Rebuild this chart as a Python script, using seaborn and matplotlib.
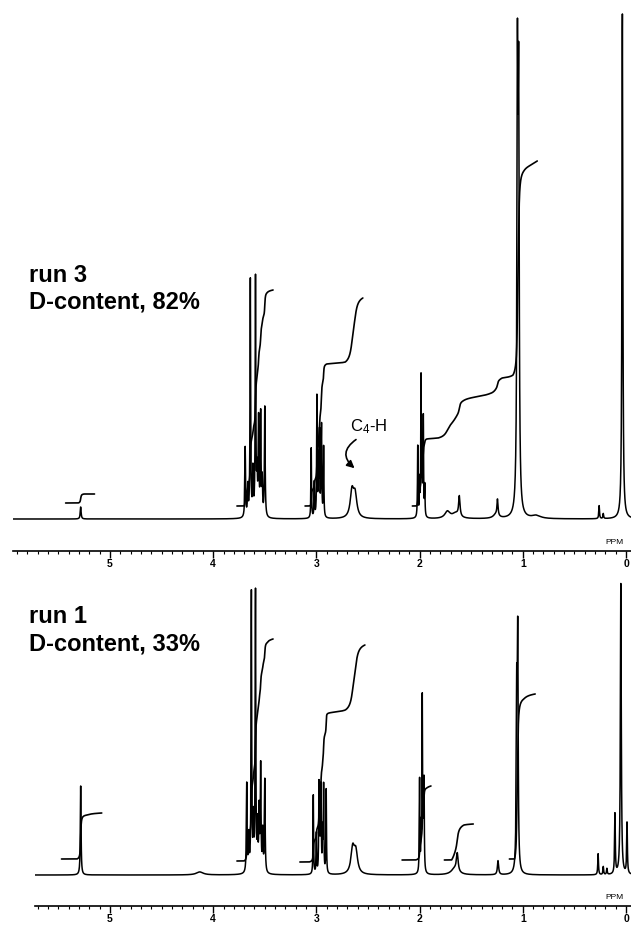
import numpy as np
import pandas as pd
import seaborn as sns
import matplotlib
matplotlib.use("Agg")
import matplotlib.pyplot as plt
from matplotlib.ticker import MultipleLocator

# -------------------------------
# 1. PEAK LISTS (ppm, height, half width)
# -------------------------------
# run 3, D-content 82%
run3_ppm = [5.284, 3.69, 3.665, 3.64, 3.615, 3.59, 3.575, 3.56, 3.54, 3.525, 3.50,
            3.05, 3.02, 2.995, 2.98, 2.97, 2.955, 2.95, 2.93,
            2.655, 2.625,
            2.018, 2.00, 1.986, 1.975, 1.964, 1.95,
            1.73, 1.65, 1.615, 1.26, 1.245, 1.052, 1.040, 0.87, 0.26, 0.22, 0.035]
run3_height = [12, 70, 30, 237, 45, 237, 40, 95, 101, 35, 110,
               70, 35, 120, 55, 81, 50, 78, 70,
               26, 22,
               71, 35, 139, 40, 98, 30,
               7, 5, 20, 4, 16, 420, 390, 3, 13, 5, 505]
run3_width = [0.005, 0.004, 0.004, 0.0035, 0.004, 0.0035, 0.004, 0.004, 0.004, 0.004, 0.004,
              0.003, 0.003, 0.003, 0.003, 0.003, 0.003, 0.003, 0.003,
              0.02, 0.02,
              0.003, 0.003, 0.003, 0.003, 0.003, 0.003,
              0.03, 0.04, 0.008, 0.03, 0.006, 0.006, 0.006, 0.05, 0.004, 0.004, 0.005]

# run 1, D-content 33%
run1_ppm = [5.284, 4.13, 3.675, 3.655, 3.63, 3.61, 3.59, 3.57, 3.555, 3.54, 3.52, 3.50,
            3.03, 3.00, 2.975, 2.965, 2.955, 2.94, 2.93, 2.905,
            2.648, 2.618,
            2.00, 1.985, 1.974, 1.965, 1.957,
            1.66, 1.635, 1.24, 1.059, 1.049, 0.27, 0.22, 0.185, 0.107, 0.05, -0.01]
run1_height = [89, 3, 89, 35, 279, 50, 279, 45, 60, 105, 40, 93,
               79, 40, 88, 45, 84, 40, 86, 84,
               25, 21,
               93, 40, 171, 45, 88,
               6, 18, 14, 165, 225, 21, 8, 6, 60, 291, 51]
run1_width = [0.004, 0.04, 0.004, 0.004, 0.0035, 0.004, 0.0035, 0.004, 0.004, 0.004, 0.004, 0.004,
              0.003, 0.003, 0.003, 0.003, 0.003, 0.003, 0.003, 0.003,
              0.02, 0.02,
              0.003, 0.003, 0.003, 0.003, 0.003,
              0.04, 0.01, 0.007, 0.005, 0.005, 0.004, 0.004, 0.004, 0.004, 0.005, 0.004]

# -------------------------------
# 2. INTEGRAL TRACES (break points in ppm, levels)
# -------------------------------
run3_int_ppm = [[5.43, 5.31, 5.25, 5.15],
                [3.77, 3.70, 3.48, 3.42],
                [3.11, 3.06, 2.90, 2.72, 2.55],
                [2.07, 2.03, 1.93, 1.82, 1.58, 1.33, 1.20, 1.095, 0.99, 0.86]]
run3_int_level = [[16, 16, 25, 25],
                  [13, 13, 226, 229],
                  [13, 13, 155, 157, 221],
                  [13, 13, 80, 81, 118, 125, 141, 144, 348, 358]]

run1_int_ppm = [[5.47, 5.32, 5.22, 5.08],
                [3.77, 3.70, 3.48, 3.42],
                [3.16, 3.07, 2.90, 2.72, 2.53],
                [2.17, 2.04, 1.93, 1.89],
                [1.76, 1.69, 1.57, 1.48],
                [1.13, 1.08, 0.99, 0.88]]
run1_int_level = [[16, 16, 60, 62],
                  [14, 14, 232, 236],
                  [13, 13, 160, 165, 230],
                  [15, 15, 87, 89],
                  [15, 15, 50, 51],
                  [16, 16, 176, 181]]

panel_labels = [("run 3", "D-content, 82%"), ("run 1", "D-content, 33%")]
tick_ppm = [0, 1, 2, 3, 4, 5]


def spectrum(x, ppm, height, width):
    y = np.zeros_like(x)
    for p, h, w in zip(ppm, height, width):
        y += h / (1 + ((x - p) / w) ** 2)
    return y


def integral_trace(x, y, pts, levels):
    xs, ys = [], []
    for i in range(len(pts) - 1):
        m = (x <= pts[i]) & (x >= pts[i + 1])
        sx = x[m][::-1]
        sy = y[m][::-1]
        c = np.cumsum(sy)
        c = (c - c[0]) / (c[-1] - c[0])
        xs.append(sx)
        ys.append(levels[i] + (levels[i + 1] - levels[i]) * c)
    return np.concatenate(xs), np.concatenate(ys)


sns.set_style("white")
plt.rcParams["font.family"] = ["Liberation Sans", "DejaVu Sans"]
plt.rcParams["mathtext.default"] = "regular"
plt.rcParams["text.color"] = "black"

W, H = 631, 927
fig = plt.figure(figsize=(W / 100, H / 100), dpi=100)

# axes boxes in pixels: left, spine y, top y, baseline y
boxes = [(13, 551, 0, 519), (35, 906, 581, 875)]
px0, px_per_ppm = 626, 103.2

datasets = [(run3_ppm, run3_height, run3_width, run3_int_ppm, run3_int_level),
            (run1_ppm, run1_height, run1_width, run1_int_ppm, run1_int_level)]
label_y = [(237, 211), (252, 225)]

x = np.linspace(-0.1, 6.0, 40000)

for k, (box, data) in enumerate(zip(boxes, datasets)):
    left, spine_y, top_y, base_y = box
    ax = fig.add_axes([left / W, (H - spine_y) / H, (W - left) / W, (spine_y - top_y) / H])
    y = spectrum(x, data[0], data[1], data[2])

    df = pd.DataFrame({"ppm": x, "intensity": y})
    sns.lineplot(data=df, x="ppm", y="intensity", ax=ax, color="black",
                 lw=1.1, estimator=None, sort=False)

    for pts, lev in zip(data[3], data[4]):
        ix, iy = integral_trace(x, y, pts, lev)
        sns.lineplot(x=ix, y=iy, ax=ax, color="black", lw=1.2,
                     estimator=None, sort=False)

    ax.set_xlim((px0 - left) / px_per_ppm, (px0 - W) / px_per_ppm)
    ax.set_ylim(-(spine_y - base_y), base_y - top_y)
    ax.set_xlabel("")
    ax.set_ylabel("")
    ax.set_yticks([])
    for s in ["top", "left", "right"]:
        ax.spines[s].set_visible(False)
    ax.spines["bottom"].set_linewidth(1.2)
    ax.spines["bottom"].set_color("black")
    ax.set_xticks(tick_ppm)
    ax.set_xticklabels([str(t) for t in tick_ppm], fontsize=7.5, fontweight="bold")
    ax.xaxis.set_minor_locator(MultipleLocator(0.1))
    ax.tick_params(axis="x", which="major", direction="out", length=5, width=1.0,
                   pad=1, bottom=True, colors="black")
    ax.tick_params(axis="x", which="minor", direction="out", length=2.5, width=0.8,
                   bottom=True, colors="black")

    ax.text(0.02, -(spine_y - base_y) + 7, "PPM", fontsize=6, ha="right",
            va="baseline", color="black")

    l1, l2 = panel_labels[k]
    ax.text(5.785, label_y[k][0], l1, fontsize=17, fontweight="bold",
            ha="left", va="baseline", color="black")
    ax.text(5.785, label_y[k][1], l2, fontsize=17, fontweight="bold",
            ha="left", va="baseline", color="black")

    if k == 0:
        ax.text(2.674, 92, "C$_4$-H", fontsize=12, ha="left", va="center",
                color="black")
        ax.annotate("", xy=(2.61, 49), xytext=(2.594, 81),
                    arrowprops=dict(arrowstyle="-|>", connectionstyle="arc3,rad=0.7",
                                    color="black", lw=1.2, mutation_scale=11))

fig.savefig("out.png", dpi=100)
